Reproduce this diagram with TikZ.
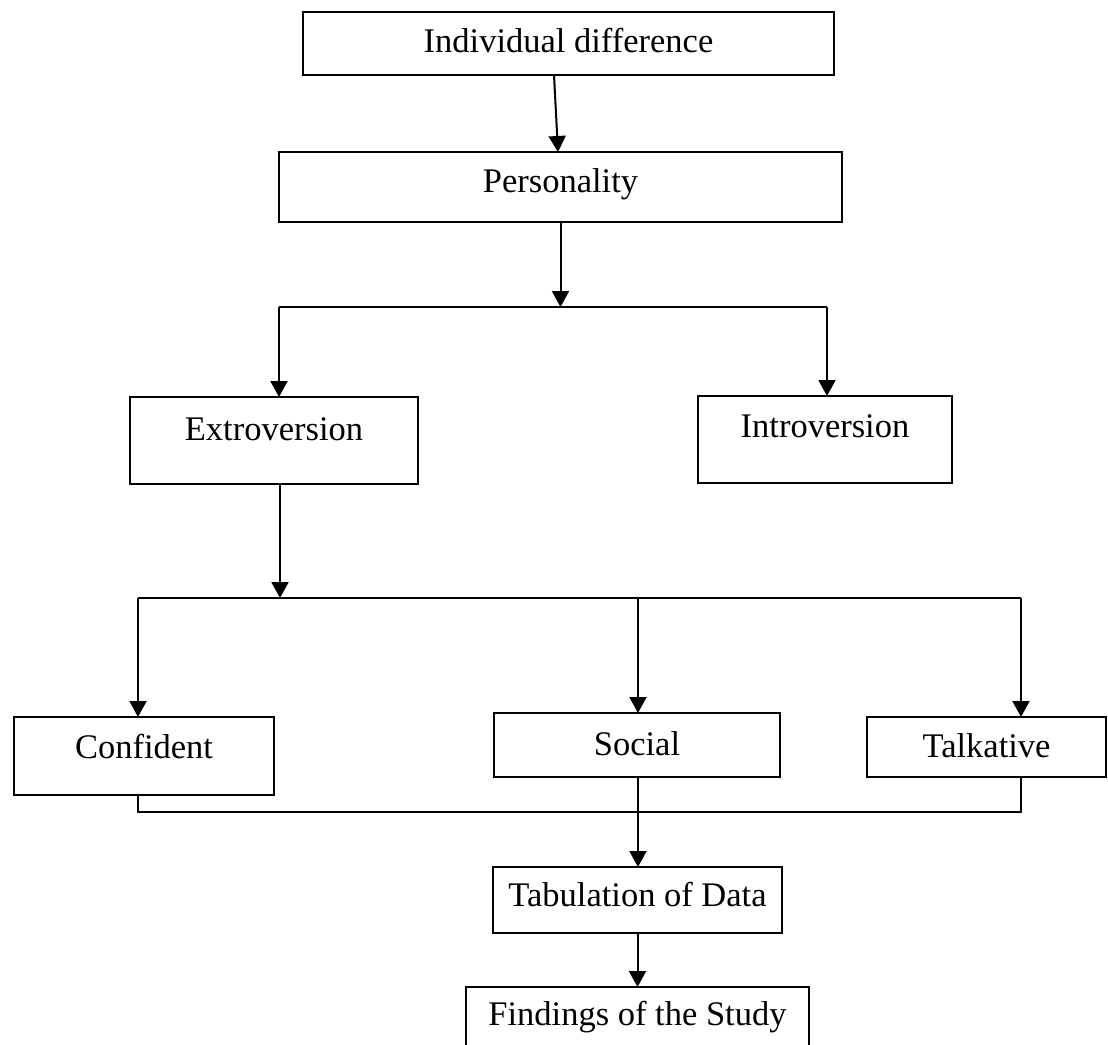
\documentclass[tikz,border=0pt]{standalone}
\usepackage{fontspec}
\setmainfont{Liberation Serif}
\usetikzlibrary{arrows.meta}
\begin{document}
\begin{tikzpicture}[x=1pt,y=-1pt,
  box/.style={draw=black, line width=2pt, fill=white, inner sep=0pt, outer sep=0pt, rectangle,
    font=\fontsize{34.5}{40}\selectfont},
  link/.style={draw=black, line width=2pt},
  arr/.style={link, -{Triangle[length=16pt,width=17pt]}}]
\useasboundingbox (0,0) rectangle (1108,1044);
\fill[white] (0,0) rectangle (1108,1044);
\clip (0,0) rectangle (1108,1044);

% boxes
\node[box, minimum width=531pt, minimum height=63pt, text height=25pt, text depth=8pt] (ind) at (568.5,43.5) {Individual difference};
\node[box, minimum width=563pt, minimum height=70pt, text height=18pt, text depth=8pt] (pers) at (560.5,187) {Personality};
\node[box, minimum width=288pt, minimum height=87pt, text height=11pt, text depth=12pt] (ext) at (274,440.5) {Extroversion};
\node[box, minimum width=254pt, minimum height=87pt, text height=7pt, text depth=12pt] (intro) at (825,439.5) {Introversion};
\node[box, minimum width=260pt, minimum height=78pt, text height=12pt, text depth=8pt] (conf) at (144,756) {Confident};
\node[box, minimum width=286pt, minimum height=64pt, text height=28pt, text depth=8pt] (soc) at (637,745) {Social};
\node[box, minimum width=239pt, minimum height=60pt, text height=28pt, text depth=8pt] (talk) at (986.5,747) {Talkative};
\node[box, minimum width=289pt, minimum height=66pt, text height=20pt, text depth=8pt] (tab) at (637.5,900) {Tabulation of Data};
\node[box, minimum width=343pt, minimum height=63pt, text height=21pt, text depth=8pt] (find) at (637.5,1018.5) {Findings of the Study};

% junction points
\coordinate (j1) at (560.5,307);
\coordinate (j1L) at (279,307);
\coordinate (j1R) at (827,307);
\coordinate (j2) at (280,598);
\coordinate (j2L) at (138,598);
\coordinate (j2M) at (638,598);
\coordinate (j2R) at (1021,598);
\coordinate (j3L) at (138,812);
\coordinate (j3R) at (1021,812);

% connectors
\draw[arr] ([xshift=-14.5pt]ind.south) -- ([xshift=-2.5pt]pers.north);
\draw[arr] (pers.south) -- (j1);
\draw[link] (j1L) -- (j1R);
\draw[arr] (j1L) -- (j1L |- ext.north);
\draw[arr] (j1R) -- (j1R |- intro.north);
\draw[arr] (j2 |- ext.south) -- (j2);
\draw[link] (j2L) -- (j2R);
\draw[arr] (j2L) -- (j2L |- conf.north);
\draw[arr] (j2M) -- (j2M |- soc.north);
\draw[arr] (j2R) -- (j2R |- talk.north);
\draw[link] (j2L |- conf.south) -- (j3L) -- (j3R) -- (j2R |- talk.south);
\draw[arr] (j2M |- soc.south) -- (j2M |- tab.north);
\draw[arr] (tab.south) -- (find.north);
\end{tikzpicture}
\end{document}
